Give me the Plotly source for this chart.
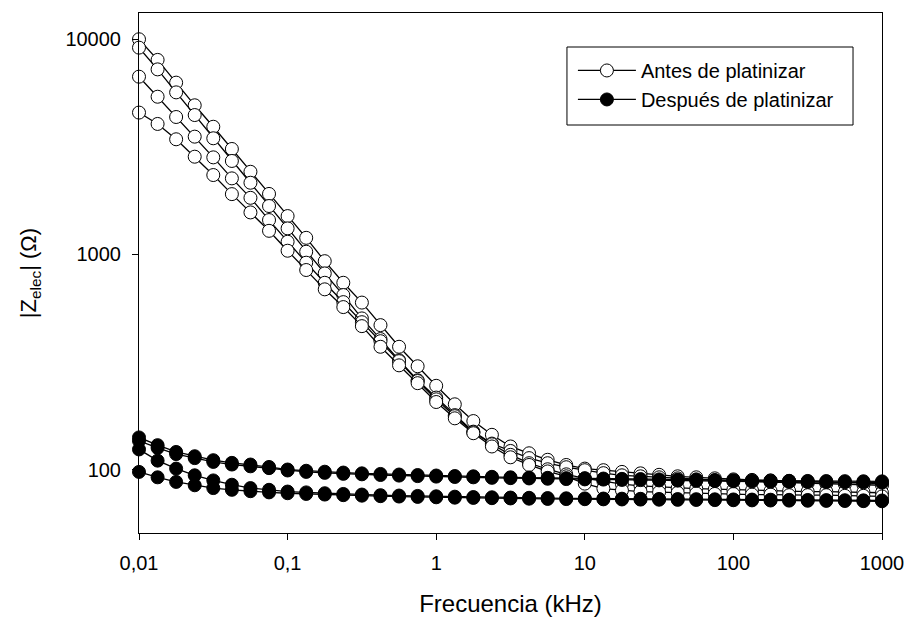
import plotly.graph_objects as go

# Frequency (kHz): 8 points per decade from 0.01 to 1000
freq_khz = [
    0.01, 0.01334, 0.01778, 0.02371, 0.03162, 0.04217, 0.05623, 0.07499,
    0.1, 0.1334, 0.1778, 0.2371, 0.3162, 0.4217, 0.5623, 0.7499,
    1.0, 1.334, 1.778, 2.371, 3.162, 4.217, 5.623, 7.499,
    10.0, 13.34, 17.78, 23.71, 31.62, 42.17, 56.23, 74.99,
    100.0, 133.4, 177.8, 237.1, 316.2, 421.7, 562.3, 749.9,
    1000.0,
]

# |Z| before platinizing (open circles), ohms
antes_1 = [10000, 8017, 6285, 4932, 3920, 3090, 2421, 1910, 1507, 1194, 930, 738, 597,
           469, 372, 302, 245, 201, 168, 145, 128, 119, 111, 105, 101, 99.3, 97.5,
           96, 94.5, 93, 92, 91, 90, 89.5, 89, 88.5, 88, 87.5, 87, 86.5, 86]
antes_2 = [9141, 7244, 5664, 4443, 3465, 2718, 2153, 1678, 1321, 1029, 816, 647, 504,
           404, 322, 260, 216, 179, 150, 132, 122, 113, 107, 102.5, 99.3, 96.2, 94,
           93, 92, 91, 90, 89, 88.5, 88, 87.5, 87, 86.5, 86, 85.5, 85, 84.5]
antes_3 = [6699, 5405, 4351, 3526, 2825, 2256, 1832, 1444, 1145, 915, 738, 600, 484,
           395, 319, 258, 212, 177, 149, 131, 117, 107, 100.3, 95, 91, 88.3, 85.5,
           84, 83, 82, 81.5, 81, 80.5, 80, 79.5, 79.5, 79, 79, 78.5, 78.5, 78]
antes_4 = [4562, 4039, 3428, 2845, 2338, 1906, 1567, 1287, 1040, 846, 688, 569, 464,
           372, 305, 252, 206, 173, 147.5, 128, 114, 105, 98, 93, 86, 81.6, 80,
           79, 78.5, 78, 77.5, 77, 77, 76.5, 76.5, 76, 76, 76, 75.5, 75.5, 75]

# |Z| after platinizing (filled circles), ohms
despues_1 = [141, 129.8, 120.7, 115.3, 110.5, 107.4, 105.5, 102.8, 100, 98.7, 97.7, 96.8, 96,
             95.4, 94.8, 94.3, 93.8, 93.3, 93, 92.5, 92, 91.8, 91.5, 91.2, 91, 90.8, 90.5,
             90.3, 90, 89.8, 89.6, 89.4, 89.2, 89, 88.8, 88.6, 88.5, 88.4, 88.3, 88.2, 88.1]
despues_2 = [136, 126, 118, 113, 108.5, 105.5, 103.5, 101.5, 99, 97.5, 96.5, 95.5, 95,
             94.3, 93.7, 93.2, 92.7, 92.3, 92, 91.5, 91.2, 90.9, 90.6, 90.3, 90, 89.8, 89.5,
             89.3, 89, 88.8, 88.6, 88.4, 88.2, 88, 87.8, 87.7, 87.5, 87.4, 87.3, 87.2, 87]
despues_3 = [124, 110, 101, 94, 89, 85, 82, 80.5, 79, 78.3, 77.6, 77, 76.5,
             76, 75.7, 75.4, 75.1, 74.8, 74.5, 74.3, 74.1, 73.9, 73.7, 73.5, 73.4, 73.3, 73.2,
             73.1, 73, 72.9, 72.8, 72.7, 72.6, 72.5, 72.4, 72.3, 72.2, 72.1, 72, 71.9, 71.8]
despues_4 = [97.5, 92, 87.6, 84.5, 82, 80.5, 79.3, 78.3, 77.6, 77, 76.5, 76, 75.6,
             75.2, 74.9, 74.6, 74.3, 74, 73.8, 73.6, 73.4, 73.2, 73, 72.9, 72.8, 72.7, 72.6,
             72.5, 72.4, 72.3, 72.2, 72.1, 72, 71.9, 71.8, 71.7, 71.6, 71.5, 71.4, 71.3, 71.2]

x_tickvals = [0.01, 0.1, 1, 10, 100, 1000]
x_ticktext = ["0,01", "0,1", "1", "10", "100", "1000"]
y_tickvals = [100, 1000, 10000]
y_ticktext = ["100", "1000", "10000"]

open_series = [antes_1, antes_2, antes_3, antes_4]
filled_series = [despues_1, despues_2, despues_3, despues_4]

fig = go.Figure()
for i, s in enumerate(open_series):
    fig.add_trace(go.Scatter(
        x=freq_khz, y=s, mode="lines+markers",
        name="Antes de platinizar", legendgroup="antes", showlegend=(i == 0),
        line=dict(color="black", width=1.3),
        marker=dict(symbol="circle", size=13, color="white", line=dict(color="black", width=1)),
        cliponaxis=False,
    ))
for i, s in enumerate(filled_series):
    fig.add_trace(go.Scatter(
        x=freq_khz, y=s, mode="lines+markers",
        name="Después de platinizar", legendgroup="despues", showlegend=(i == 0),
        line=dict(color="black", width=1.3),
        marker=dict(symbol="circle", size=13, color="black", line=dict(color="black", width=1)),
        cliponaxis=False,
    ))

font_family = "Liberation Sans, Arial, sans-serif"
fig.update_layout(
    width=907, height=619,
    margin=dict(l=139, r=25, t=13, b=86, autoexpand=False),
    paper_bgcolor="white", plot_bgcolor="white",
    font=dict(family=font_family, size=20, color="black"),
    showlegend=True,
    legend=dict(
        x=0.584, y=0.927, xanchor="left", yanchor="top",
        borderwidth=0, bgcolor="rgba(0,0,0,0)",
        font=dict(size=20), itemwidth=58, tracegroupgap=0,
    ),
    shapes=[dict(
        type="rect", xref="paper", yref="paper",
        x0=0.576, x1=0.961, y0=0.7846, y1=0.9346,
        line=dict(color="black", width=1), fillcolor="rgba(0,0,0,0)", layer="above",
    )],
    xaxis=dict(
        type="log", range=[-2, 3], automargin=False,
        tickvals=x_tickvals, ticktext=x_ticktext,
        ticks="outside", ticklen=6, tickcolor="black", tickwidth=1,
        showline=True, linecolor="black", linewidth=1, mirror=True,
        showgrid=False, zeroline=False,
        tickfont=dict(size=20), ticklabelstandoff=6,
        title=dict(text="Frecuencia (kHz)", font=dict(size=24), standoff=22),
    ),
    yaxis=dict(
        type="log", range=[1.705, 4.122], automargin=False,
        tickvals=y_tickvals, ticktext=y_ticktext,
        ticks="outside", ticklen=6, tickcolor="black", tickwidth=1,
        showline=True, linecolor="black", linewidth=1, mirror=True,
        showgrid=False, zeroline=False,
        tickfont=dict(size=20), ticklabelstandoff=7,
        title=dict(text="|Z<sub>elec</sub>| (Ω)", font=dict(size=22), standoff=22),
    ),
)

fig.write_html("out.html")
